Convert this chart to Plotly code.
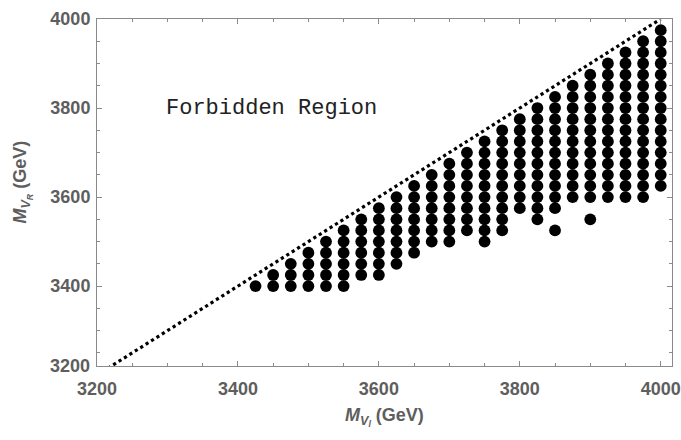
import plotly.graph_objects as go

# Column positions M_{V_l} (GeV) and the lowest / highest M_{V_R} of each contiguous column
mvl = [3425, 3450, 3475, 3500, 3525, 3550, 3575, 3600, 3625, 3650, 3675, 3700,
       3725, 3750, 3775, 3800, 3825, 3850, 3875, 3900, 3925, 3950, 3975, 4000]
mvr_low = [3400, 3400, 3400, 3400, 3400, 3400, 3425, 3425, 3450, 3475, 3500, 3500,
           3525, 3500, 3525, 3575, 3550, 3575, 3600, 3600, 3600, 3600, 3600, 3625]
mvr_high = [3400, 3425, 3450, 3475, 3500, 3525, 3550, 3575, 3600, 3625, 3650, 3675,
            3700, 3725, 3750, 3775, 3800, 3825, 3850, 3875, 3900, 3925, 3950, 3975]
grid_step = 25
# isolated points below the columns
extra_mvl = [3850, 3900]
extra_mvr = [3525, 3550]

# boundary M_{V_R} = M_{V_l}
diag_x = [3200, 4000]
diag_y = [3200, 4000]

x_range = [3200, 4016]
y_range = [3220.5, 4000]
major_ticks = [3200, 3400, 3600, 3800, 4000]

px, py = [], []
for xv, lo, hi in zip(mvl, mvr_low, mvr_high):
    for yv in range(lo, hi + 1, grid_step):
        px.append(xv)
        py.append(yv)
px += extra_mvl
py += extra_mvr

GRAY = "#5e5e5e"
AX = "#8a8a8a"
FONT = "Liberation Sans"

fig = go.Figure()
fig.add_trace(go.Scatter(x=diag_x, y=diag_y, mode="lines",
                         line=dict(color="black", width=3.2, dash="dot"),
                         hoverinfo="skip", showlegend=False))
fig.add_trace(go.Scatter(x=px, y=py, mode="markers",
                         marker=dict(color="black", size=11.8, line=dict(width=0)),
                         showlegend=False))

axis_common = dict(
    showgrid=False, zeroline=False, showline=True, linecolor=AX, linewidth=1,
    mirror="ticks", ticks="inside", ticklen=5, tickcolor=AX, tickwidth=1,
    tickvals=major_ticks, automargin=False,
    tickfont=dict(family=FONT, size=18, color=GRAY, weight="bold"),
    minor=dict(dtick=50, ticks="inside", ticklen=3, tickcolor=AX, tickwidth=1, showgrid=False),
)
fig.update_xaxes(range=x_range, ticklabelstandoff=6, **axis_common)
fig.update_yaxes(range=y_range, ticklabelstandoff=2, **axis_common)

# the 3200 label of the vertical axis sits at the lower frame corner
fig.add_annotation(text="<b>3200</b>", xref="paper", x=0, xanchor="right", xshift=-5,
                   yref="paper", y=0, yanchor="middle", showarrow=False,
                   font=dict(family=FONT, size=18, color=GRAY))

fig.add_annotation(text="Forbidden Region", x=3447, y=3800, xref="x", yref="y",
                   showarrow=False, font=dict(family="Liberation Mono", size=22, color="#222222"))

fig.add_annotation(text="<b><i>M</i><sub><i>V</i><sub><i>l</i></sub></sub> (GeV)</b>",
                   xref="paper", yref="paper", x=0.5, y=-0.148, yanchor="middle",
                   showarrow=False, font=dict(family=FONT, size=18, color=GRAY))
fig.add_annotation(text="<b><i>M</i><sub><i>V</i><sub><i>R</i></sub></sub> (GeV)</b>",
                   xref="paper", yref="paper", x=-0.154, y=0.53, textangle=-90,
                   showarrow=False, font=dict(family=FONT, size=18, color=GRAY))

fig.update_layout(
    width=681, height=440,
    margin=dict(l=97, r=9, t=19, b=74),
    plot_bgcolor="white", paper_bgcolor="white",
)

fig.write_html("out.html")
